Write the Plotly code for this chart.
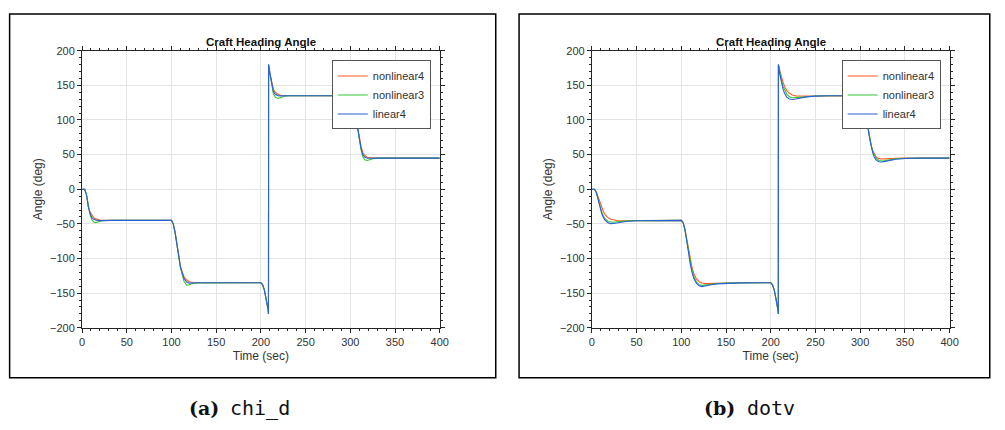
import plotly.graph_objects as go

# ---------------- data ----------------
time_a = [0, 3, 5, 7, 9, 11, 13, 15, 17, 20, 23, 27, 35,
          100, 102, 104, 106, 108, 110, 112, 114, 117, 120, 124, 130,
          200, 202, 204, 206, 208, 208.5,
          208.6, 210, 212, 214, 216, 219, 222, 226, 232,
          300, 302, 304, 306, 308, 310, 312, 314, 316, 319, 322, 326, 332,
          400]
nonlinear4_a = [0, 0, -8, -25, -33, -38, -41, -42.8, -43.8, -44.4, -44.8, -45, -45,
                -45, -50, -62, -80, -97, -111, -119, -126, -131, -133.5, -134.6, -135,
                -135, -138, -146, -158, -173, -180,
                180, 168, 155, 144, 140, 137, 135.8, 135.2, 135,
                135, 131, 121, 105, 88, 72, 62, 53, 49, 46.3, 45.5, 45.1, 45,
                45]
nonlinear3_a = [0, 0, -8, -26, -37, -44, -47.5, -48.2, -47.5, -46.3, -45.6, -45.2, -45,
                -45, -50, -62, -80, -97, -113, -123, -133, -138.5, -138, -136.2, -135.3,
                -135, -138, -146, -158, -173, -180,
                180, 168, 150, 137.5, 133, 131, 132.5, 134.2, 134.9,
                135, 131, 121, 105, 88, 72, 57, 47, 42.5, 41.5, 43, 44.5, 44.9,
                45]
linear4_a = [0, 0, -8, -25.5, -35, -41, -43.5, -44.6, -45.2, -45.3, -45.1, -45, -45,
             -45, -50, -62, -80, -97, -112, -121, -129, -134, -135.5, -135.3, -135,
             -135, -138, -146, -158, -173, -180,
             180, 168, 152, 141, 137, 135.2, 134.8, 134.9, 135,
             135, 131, 121, 105, 88, 72, 59, 50, 46.5, 44.8, 44.7, 44.9, 45,
             45]

time_b = [0, 3, 5, 7, 9, 11, 13, 15, 18, 21, 24, 28, 33, 40, 50, 65,
          100, 102, 104, 106, 108, 110, 112, 114, 117, 120, 123, 127, 132, 140, 150, 165,
          200, 202, 204, 206, 208, 208.5,
          208.6, 210, 212, 214, 216, 218, 221, 224, 228, 233, 240, 250, 265,
          300, 302, 304, 306, 308, 310, 312, 314, 316, 318, 321, 324, 328, 333, 340, 350, 365,
          400]
nonlinear4_b = [0, 0, -4, -12, -20, -27, -32.5, -37, -41, -43.3, -44.5, -45.2, -45.4, -45.4, -45.2, -45,
                -45, -48, -57, -71, -87, -101, -113, -122, -129.5, -133.5, -135.5, -136.2, -136, -135.6, -135.3, -135,
                -135, -138, -146, -158, -173, -180,
                180, 172, 162, 153.5, 147, 142.5, 138.5, 136.2, 134.8, 134.3, 134.4, 134.7, 135,
                135, 132, 124, 110, 93, 77, 65, 56, 50, 46.5, 44.2, 43.6, 43.9, 44.4, 44.7, 44.9, 45,
                45]
nonlinear3_b = [0, 0, -5, -15, -25, -33, -39, -43, -46.5, -47.6, -47.6, -47, -46.3, -45.7, -45.3, -45.1,
                -45, -48, -58, -73, -90, -105, -117, -126, -134, -137.8, -138.8, -138.2, -137, -136, -135.5, -135.2,
                -135, -138, -146, -158, -173, -180,
                180, 169, 157, 148, 141, 137, 133.5, 132.2, 132.3, 133, 134, 134.6, 135,
                135, 132, 125, 111, 94, 78, 65, 55, 48.5, 44.5, 41.5, 40.8, 41.5, 42.8, 44, 44.6, 44.9,
                45]
linear4_b = [0, 0, -5, -16, -27, -35, -41, -45, -48.5, -49.6, -49.5, -48.5, -47.3, -46.2, -45.5, -45.1,
             -45, -48, -58, -74, -92, -108, -120, -129, -136, -139.5, -140.6, -140, -138.3, -136.6, -135.7, -135.2,
             -135, -138, -146, -158, -173, -180,
             180, 167, 153, 143, 137, 133, 130.2, 129.5, 130.2, 131.7, 133.3, 134.4, 135,
             135, 132, 125, 112, 95, 78, 64, 53, 46, 42, 39.6, 39.3, 40.2, 41.8, 43.3, 44.4, 44.9,
             45]

series_names = ["nonlinear4", "nonlinear3", "linear4"]
series_colors = ["#ff5a28", "#33c733", "#2b5fd8"]
x_ticks = [0, 50, 100, 150, 200, 250, 300, 350, 400]
y_ticks = [-200, -150, -100, -50, 0, 50, 100, 150, 200]
panel_title = "Craft Heading Angle"
x_label = "Time (sec)"
y_label = "Angle (deg)"
captions = [("(a)", "chi_d"), ("(b)", "dotv")]

# ---------------- layout helpers ----------------
W, H = 1005, 430


def fx(p):
    return p / W


def fy(p):
    return 1 - p / H


fig = go.Figure()

panels = [
    (time_a, [nonlinear4_a, nonlinear3_a, linear4_a], "x", "y", "legend"),
    (time_b, [nonlinear4_b, nonlinear3_b, linear4_b], "x2", "y2", "legend2"),
]
for t, ys, xa, ya, lg in panels:
    for name, col, y in zip(series_names, series_colors, ys):
        fig.add_trace(go.Scatter(x=t, y=y, mode="lines", name=name,
                                 line=dict(color=col, width=1.1),
                                 xaxis=xa, yaxis=ya, legend=lg))

tick_font = dict(family="Liberation Sans, Arial, sans-serif", size=11, color="#333333")
title_font = dict(family="Liberation Sans, Arial, sans-serif", size=12, color="#333333")


def axis(domain, anchor, ticks, rng, title, standoff):
    return dict(domain=domain, anchor=anchor, range=rng, tickvals=ticks,
                showline=True, linecolor="#262626", linewidth=1, mirror="ticks",
                ticks="outside", ticklen=4, tickwidth=1, tickcolor="#262626",
                showgrid=True, gridcolor="#e4e4e4", gridwidth=1, zeroline=False,
                tickfont=tick_font,
                title=dict(text=title, font=title_font, standoff=standoff),
                minor=dict(ticks="outside", ticklen=2, tickwidth=1, tickcolor="#262626",
                           dtick=10, tick0=0, showgrid=False))


ydom = [fy(331), fy(46)]
xdom_a = [fx(80), fx(442)]
xdom_b = [fx(596), fx(958)]

legend_style = dict(bgcolor="white", bordercolor="#555555", borderwidth=1,
                    font=dict(family="Liberation Sans, Arial, sans-serif", size=11, color="#333333"),
                    itemwidth=30, tracegroupgap=0, y=fy(56), yanchor="top", xanchor="right")

fig.update_layout(
    width=W, height=H, autosize=False,
    margin=dict(l=0, r=0, t=0, b=0),
    paper_bgcolor="white", plot_bgcolor="white",
    xaxis=axis(xdom_a, "y", x_ticks, [0, 400], x_label, 4),
    yaxis=axis(ydom, "x", y_ticks, [-200, 200], y_label, 4),
    xaxis2=axis(xdom_b, "y2", x_ticks, [0, 400], x_label, 4),
    yaxis2=axis(ydom, "x2", y_ticks, [-200, 200], y_label, 4),
    legend=dict(x=fx(433), **legend_style),
    legend2=dict(x=fx(949), **legend_style),
    showlegend=True,
)

# outer frames around each panel
for x0, x1 in [(6.7, 498.7), (522.3, 998.7)]:
    fig.add_shape(type="rect", xref="paper", yref="paper",
                  x0=fx(x0), x1=fx(x1), y0=fy(382.3), y1=fy(8.3),
                  line=dict(color="black", width=1.5), fillcolor="rgba(0,0,0,0)",
                  layer="below")

# panel titles
for dom in (xdom_a, xdom_b):
    fig.add_annotation(xref="paper", yref="paper", x=(dom[0] + dom[1]) / 2, y=fy(37),
                       text="<b>" + panel_title + "</b>", showarrow=False,
                       xanchor="center", yanchor="middle",
                       font=dict(family="Liberation Sans, Arial, sans-serif", size=11.5, color="#111111"))

# captions below the frames
for (lab, name), xr, xl in zip(captions, (221, 742.5), (228, 751)):
    fig.add_annotation(xref="paper", yref="paper", x=fx(xr), y=fy(414),
                       text="<b>" + lab + "</b>", showarrow=False,
                       xanchor="right", yanchor="middle",
                       font=dict(family="DejaVu Serif", size=19, color="#111111"))
    fig.add_annotation(xref="paper", yref="paper", x=fx(xl), y=fy(414),
                       text=name, showarrow=False,
                       xanchor="left", yanchor="middle",
                       font=dict(family="DejaVu Sans Mono", size=20, color="#111111"))

fig.write_html("out.html")
